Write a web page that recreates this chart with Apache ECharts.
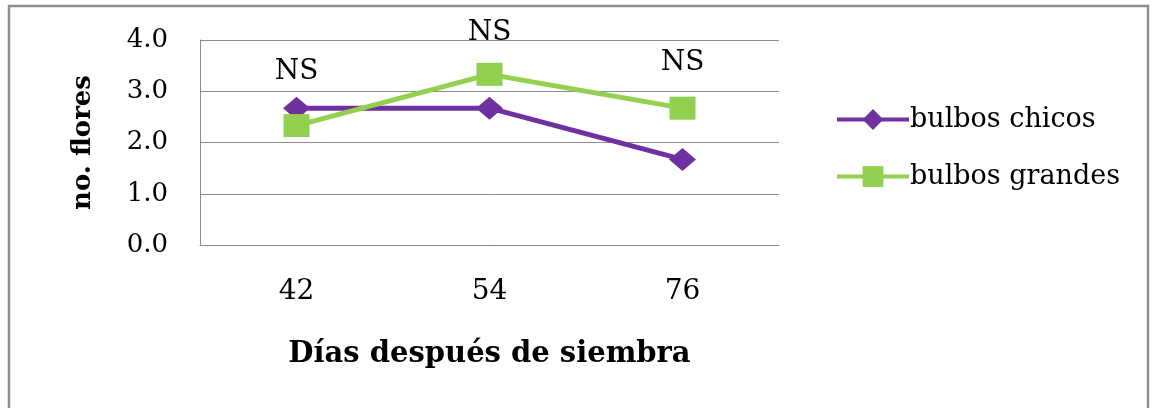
<!DOCTYPE html>
<html>
<head>
<meta charset="utf-8">
<script src="https://cdn.jsdelivr.net/npm/echarts@6/dist/echarts.min.js"></script>
<style>
html,body{margin:0;padding:0;background:#fff;}
#chart{width:1157px;height:408px;}
</style>
</head>
<body>
<div id="chart"></div>
<script>
const categories = ['42', '54', '76'];
const bulbosChicos = [2.67, 2.67, 1.67];
const bulbosGrandes = [2.33, 3.33, 2.67];
const nsLabelValues = [3.38, 4.14, 3.55];
const nsText = 'NS';
const yTicks = [0, 1, 2, 3, 4];

const FONT = 'DejaVu Serif';
const chart = echarts.init(document.getElementById('chart'), null, {renderer: 'canvas'});

const option = {
  backgroundColor: '#ffffff',
  animation: false,
  graphic: [{
    type: 'rect',
    shape: {x: 9, y: 6, width: 1139, height: 430},
    style: {fill: 'none', stroke: '#8f8f8f', lineWidth: 2.5},
    silent: true
  }],
  grid: {left: 200, top: 40, width: 579, height: 205, containLabel: false, outerBoundsMode: 'none'},
  legend: {
    orient: 'vertical',
    left: 830,
    top: 101,
    itemWidth: 72,
    itemHeight: 26,
    itemGap: 30,
    data: ['bulbos chicos', 'bulbos grandes'],
    lineStyle: {width: 4},
    textStyle: {fontFamily: FONT, fontSize: 27, color: '#000', padding: [0, 0, 0, -4]}
  },
  xAxis: {
    type: 'category',
    data: categories,
    boundaryGap: true,
    axisLine: {show: true, lineStyle: {color: '#8c8c8c', width: 1}},
    axisTick: {show: false},
    axisLabel: {fontFamily: FONT, fontSize: 28, color: '#000', margin: 33},
    splitLine: {show: false},
    name: 'Días después de siembra',
    nameLocation: 'middle',
    nameGap: 95,
    nameTextStyle: {fontFamily: FONT, fontSize: 29, fontWeight: 'bold', color: '#000'}
  },
  yAxis: {
    type: 'value',
    min: yTicks[0],
    max: yTicks[yTicks.length - 1],
    interval: 1,
    axisLine: {show: true, lineStyle: {color: '#8c8c8c', width: 1}},
    axisTick: {show: false},
    axisLabel: {fontFamily: FONT, fontSize: 26, color: '#000', margin: 32,
      formatter: v => v.toFixed(1)},
    splitLine: {show: true, lineStyle: {color: '#8c8c8c', width: 1}},
    name: 'no. flores',
    nameLocation: 'middle',
    nameRotate: 90,
    nameGap: 104,
    nameTextStyle: {fontFamily: FONT, fontSize: 26, fontWeight: 'bold', color: '#000'}
  },
  series: [
    {
      name: 'bulbos chicos',
      type: 'line',
      data: bulbosChicos,
      symbol: 'diamond',
      symbolSize: [27, 23],
      itemStyle: {color: '#7030A0'},
      lineStyle: {color: '#7030A0', width: 5},
      z: 2
    },
    {
      name: 'bulbos grandes',
      type: 'line',
      data: bulbosGrandes,
      symbol: 'rect',
      symbolSize: [26, 23],
      itemStyle: {color: '#92D050'},
      lineStyle: {color: '#92D050', width: 5},
      z: 3
    },
    {
      name: 'NS',
      type: 'scatter',
      data: nsLabelValues,
      symbolSize: 0,
      clip: false,
      silent: true,
      itemStyle: {opacity: 1},
      label: {show: true, position: 'inside', formatter: nsText,
        fontFamily: FONT, fontSize: 28, color: '#000', opacity: 1, textBorderWidth: 0},
      z: 4
    }
  ]
};
chart.setOption(option);
</script>
</body>
</html>
